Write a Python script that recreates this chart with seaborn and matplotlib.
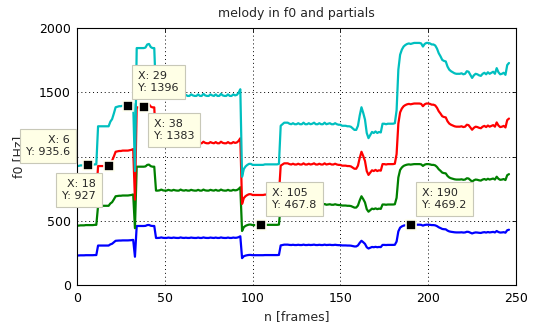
import pandas as pd
import numpy as np
import matplotlib
matplotlib.use('Agg')
import matplotlib.pyplot as plt
import seaborn as sns

f0_hz = [
    232, 232, 233, 233, 233, 234, 234, 234, 234, 234, 235, 235,
    309, 309, 309, 309, 309, 309, 309,
    318, 323, 334, 346,
    347, 348, 348, 349, 349, 349, 349, 350, 351, 353,
    222,
    461, 461, 461, 461, 461, 462, 468, 469, 463, 461, 461,
    368,
    368, 369, 372, 369, 368, 368, 371, 369, 368, 371,
    369, 368, 368, 372, 369, 368, 370, 368, 368, 371,
    369, 368, 368, 371, 368, 368, 372, 369, 368, 368,
    371, 369, 368, 371, 368, 368, 372, 369, 368, 368,
    371, 368, 368, 371, 369, 370, 374,
    381,
    211,
    226, 231, 234, 236, 236,
    234, 234, 234, 234, 234, 234, 234, 235, 235, 235, 235, 235, 235, 235, 235,
    236,
    310, 313, 316, 316, 316, 314, 313, 315, 313, 313,
    315, 313, 313, 316, 313, 313, 315, 313, 314, 316,
    313, 313, 315, 313, 313, 316, 313, 314, 315, 313,
    313, 315, 313, 312, 312, 310, 310, 310, 309, 309,
    308, 305, 302, 302, 310, 330,
    346,
    335, 322, 296, 286, 292,
    298, 296, 299, 296, 298, 297,
    314, 314, 313, 314, 314, 314, 314, 315,
    340, 419, 448, 458, 464, 467, 469, 470, 469,
    470, 471, 471, 471, 471, 470, 464, 469, 471, 471, 470, 468, 468, 466,
    460, 451, 445, 438, 436, 435, 425, 419, 416, 414, 412, 411,
    411, 411, 412, 410, 411, 416, 415, 409, 403, 408,
    411, 410, 408, 407, 411, 413, 410, 414, 411, 413,
    415, 411, 422, 414, 410, 411, 413, 409, 428, 432,
]
partial_numbers = [1, 2, 3, 4]
partial_names = ['f0', '2 f0', '3 f0', '4 f0']
line_colors = ['#0000ff', '#008000', '#ff0000', '#00bfbf']

# data tips shown on the chart
tip_x = [6, 18, 29, 38, 105, 190]
tip_label_y = ['935.6', '927', '1396', '1383', '467.8', '469.2']

frames = np.arange(len(f0_hz))
rows = []
for k, name in zip(partial_numbers, partial_names):
    rows.append(pd.DataFrame({'frame': frames, 'freq': np.array(f0_hz) * k, 'partial': name}))
data = pd.concat(rows, ignore_index=True)

sns.set_style('white')
plt.rcParams['font.family'] = ['DejaVu Sans']

fig = plt.figure(figsize=(5.36, 3.26), dpi=100)
ax = fig.add_axes([77 / 536, 1 - 285.3 / 326, (516 - 77) / 536, (285.3 - 28) / 326])

sns.lineplot(data=data, x='frame', y='freq', hue='partial', hue_order=partial_names,
             palette=line_colors, estimator=None, legend=False, linewidth=1.6, ax=ax)

ax.set_xlim(0, 250)
ax.set_ylim(0, 2000)
ax.set_xticks(range(0, 251, 50))
ax.set_yticks(range(0, 2001, 500))
ax.grid(True, color='black', linestyle=(0, (1, 3)), linewidth=0.7)
ax.tick_params(direction='in', top=True, right=True, length=3, width=0.6,
               labelsize=9, pad=4.5, colors='black')
for s in ax.spines.values():
    s.set_color('black')
    s.set_linewidth(0.8)

ax.set_title('melody in f0 and partials', fontsize=9, pad=8)
ax.set_xlabel('n [frames]', fontsize=9, labelpad=4)
ax.set_ylabel('f0 [Hz]', fontsize=9, labelpad=10)

# layout of each tip box: offset in pixels and alignment
tip_offsets = [(-17.5, 8), (-13, -12.8), (10.5, 12.7), (10, -11.8), (11, 15.3), (11.5, 15.1)]
tip_align = [('right', 'bottom'), ('right', 'top'), ('left', 'bottom'),
             ('left', 'top'), ('left', 'bottom'), ('left', 'bottom')]

for x, ylab, off, al in zip(tip_x, tip_label_y, tip_offsets, tip_align):
    y = float(ylab)
    ax.plot([x], [y], marker='s', markersize=7.5, markerfacecolor='black',
            markeredgecolor='#fffff0', markeredgewidth=1.2, zorder=6)
    ax.annotate(f'X: {x}\nY: {ylab}', xy=(x, y), xytext=off, textcoords='offset pixels',
                ha=al[0], va=al[1], multialignment=al[0], fontsize=8, linespacing=1.25,
                bbox=dict(boxstyle='square,pad=0.55', fc='#ffffe6', ec='#c8c8b8', lw=0.8),
                zorder=7, annotation_clip=False)

fig.savefig('out.png', dpi=100)
